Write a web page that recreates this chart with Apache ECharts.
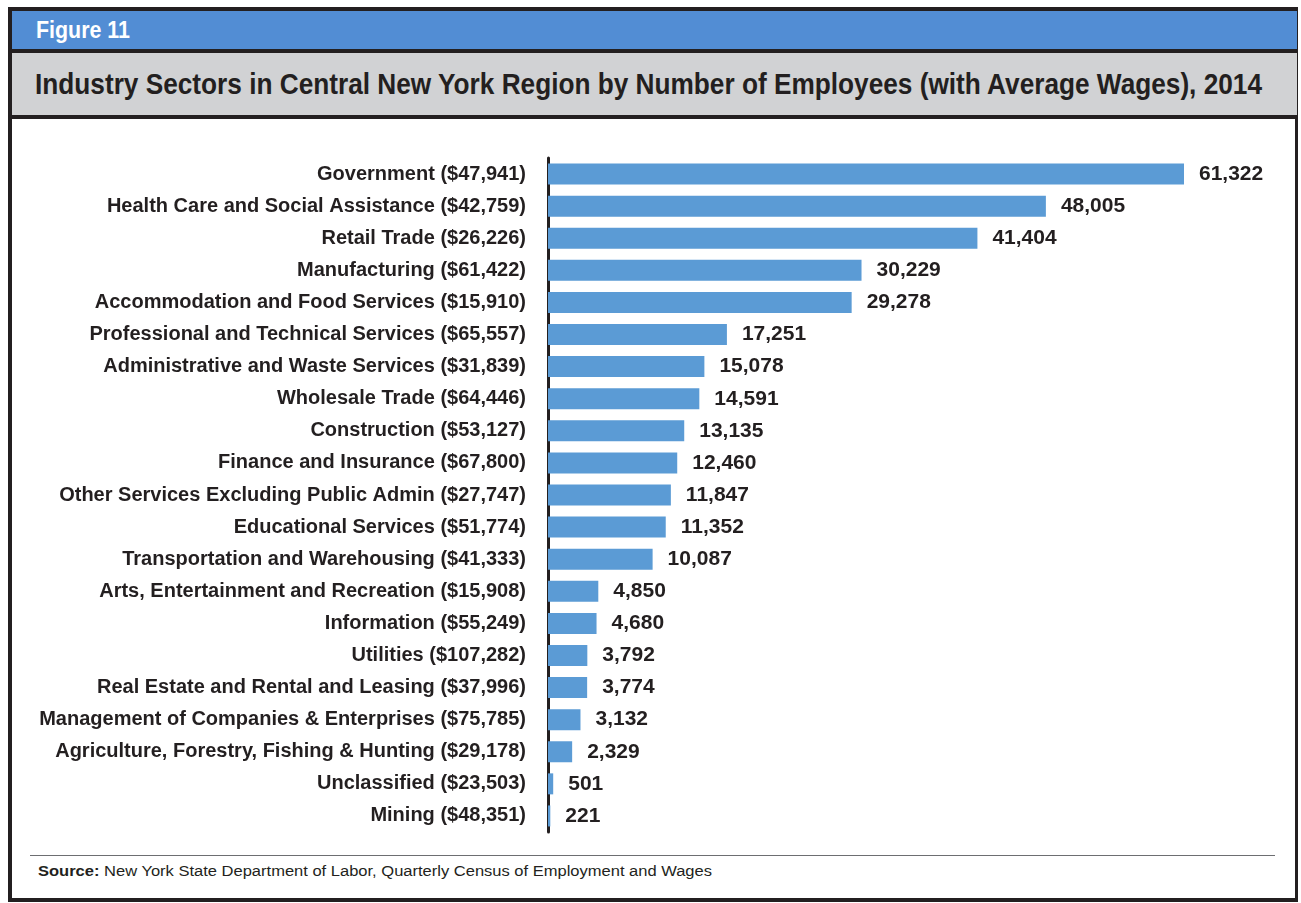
<!DOCTYPE html>
<html>
<head>
<meta charset="utf-8">
<script src="https://cdn.jsdelivr.net/npm/echarts@6/dist/echarts.min.js"></script>
<style>
  html, body { margin: 0; padding: 0; background: #ffffff; }
  body { width: 1301px; height: 903px; position: relative; overflow: hidden; font-family: 'Liberation Sans', Arial, sans-serif; }
  #frame { position: absolute; left: 8px; top: 7px; width: 1283px; height: 887px; border: 4px solid #231f20; border-right-width: 3px; }
  #band1 { position: absolute; left: 12px; top: 11px; width: 1285px; height: 38px; background: #528dd4; }
  #sep1 { position: absolute; left: 12px; top: 49px; width: 1285px; height: 4px; background: #231f20; }
  #band2 { position: absolute; left: 12px; top: 53px; width: 1285px; height: 62px; background: #d1d2d4; }
  #sep2 { position: absolute; left: 12px; top: 115px; width: 1285px; height: 4px; background: #231f20; }
  .fit { position: absolute; white-space: nowrap; transform-origin: 0 50%; display: inline-block; }
  #fig { left: 36px; top: 11px; height: 38px; line-height: 38px; color: #ffffff; font-weight: bold; font-size: 24px; }
  #title { left: 35px; top: 53px; height: 62px; line-height: 62px; color: #231f20; font-weight: bold; font-size: 29px; }
  #rule { position: absolute; left: 30px; top: 855px; width: 1245px; height: 1px; background: #6d6e71; }
  #source { left: 38px; top: 861px; height: 20px; line-height: 20px; font-size: 15.5px; color: #231f20; }
  #chart { position: absolute; left: 0; top: 0; width: 1301px; height: 903px; }
</style>
</head>
<body>
<div id="frame"></div>
<div id="band1"></div>
<div id="sep1"></div>
<div id="band2"></div>
<div id="sep2"></div>
<div id="fig" class="fit" data-w="94">Figure 11</div>
<div id="title" class="fit" data-w="1227">Industry Sectors in Central New York Region by Number of Employees (with Average Wages), 2014</div>
<div id="rule"></div>
<div id="source" class="fit" data-w="674"><b>Source:</b> New York State Department of Labor, Quarterly Census of Employment and Wages</div>
<div id="chart"></div>
<script>
const categories = [
  'Government ($47,941)',
  'Health Care and Social Assistance ($42,759)',
  'Retail Trade ($26,226)',
  'Manufacturing ($61,422)',
  'Accommodation and Food Services ($15,910)',
  'Professional and Technical Services ($65,557)',
  'Administrative and Waste Services ($31,839)',
  'Wholesale Trade ($64,446)',
  'Construction ($53,127)',
  'Finance and Insurance ($67,800)',
  'Other Services Excluding Public Admin ($27,747)',
  'Educational Services ($51,774)',
  'Transportation and Warehousing ($41,333)',
  'Arts, Entertainment and Recreation ($15,908)',
  'Information ($55,249)',
  'Utilities ($107,282)',
  'Real Estate and Rental and Leasing ($37,996)',
  'Management of Companies & Enterprises ($75,785)',
  'Agriculture, Forestry, Fishing & Hunting ($29,178)',
  'Unclassified ($23,503)',
  'Mining ($48,351)'
];
const employees = [61322, 48005, 41404, 30229, 29278, 17251, 15078, 14591, 13135, 12460, 11847, 11352, 10087, 4850, 4680, 3792, 3774, 3132, 2329, 501, 221];

document.querySelectorAll('.fit').forEach(el => {
  const target = parseFloat(el.dataset.w);
  const w = el.getBoundingClientRect().width;
  if (w > 0) el.style.transform = 'scaleX(' + (target / w) + ')';
});

const chart = echarts.init(document.getElementById('chart'), null, { renderer: 'canvas' });
chart.setOption({
  animation: false,
  backgroundColor: 'transparent',
  grid: { left: 548, right: 27, top: 158, bottom: 71, containLabel: false },
  xAxis: {
    type: 'value', min: 0, max: 70000, show: false,
    splitLine: { show: false }
  },
  yAxis: {
    type: 'category', data: categories, inverse: true,
    axisLine: { show: true, lineStyle: { color: '#231f20', width: 3 } },
    axisTick: { show: false },
    axisLabel: {
      margin: 22, color: '#231f20', fontSize: 20, fontWeight: 'bold',
      fontFamily: "'Liberation Sans', Arial, sans-serif"
    }
  },
  series: [{
    type: 'bar', data: employees, barWidth: 21,
    itemStyle: { color: '#5b9bd5' },
    label: {
      show: true, position: 'right', distance: 15,
      color: '#231f20', fontSize: 21, fontWeight: 'bold',
      fontFamily: "'Liberation Sans', Arial, sans-serif",
      formatter: p => p.value.toLocaleString('en-US')
    }
  }]
});
</script>
</body>
</html>
